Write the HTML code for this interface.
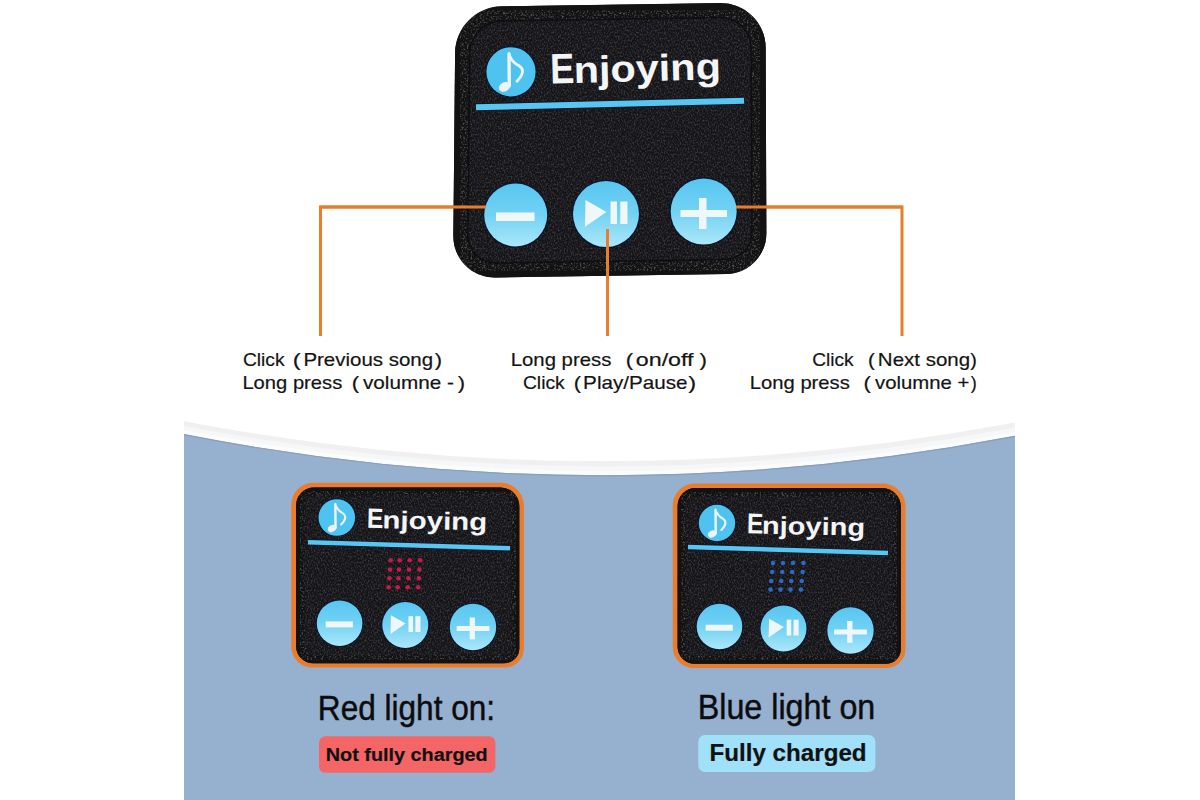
<!DOCTYPE html>
<html><head><meta charset="utf-8"><style>
html,body{margin:0;padding:0;background:#fff;}
svg{display:block;font-family:"Liberation Sans", sans-serif;}
</style></head><body>
<svg width="1200" height="800" viewBox="0 0 1200 800">
<defs>
<linearGradient id="btng" x1="0" y1="0" x2="0" y2="1">
<stop offset="0" stop-color="#58c6f0"/><stop offset="0.5" stop-color="#72d2f4"/><stop offset="1" stop-color="#ace7f8"/>
</linearGradient>
<pattern id="weave" width="4.5" height="4.5" patternUnits="userSpaceOnUse" patternTransform="rotate(-60)">
<circle cx="1.1" cy="1.1" r="0.85" fill="#4a4a4f" opacity="0.4"/>
<circle cx="3.3" cy="3.3" r="0.75" fill="#404044" opacity="0.3"/>
</pattern>
<filter id="grainIn" x="0" y="0" width="100%" height="100%" color-interpolation-filters="sRGB">
<feTurbulence type="fractalNoise" baseFrequency="0.7 0.5" numOctaves="2" seed="7" result="n"/>
<feColorMatrix in="n" type="matrix" values="0 0 0 0 0.25  0 0 0 0 0.25  0 0 0 0 0.28  2.4 0 0 0 -1.02" result="g"/>
<feComposite in="g" in2="SourceGraphic" operator="in"/>
</filter>
<filter id="grain" x="0" y="0" width="100%" height="100%" color-interpolation-filters="sRGB">
<feTurbulence type="fractalNoise" baseFrequency="0.55" numOctaves="2" seed="3" result="n"/>
<feColorMatrix in="n" type="matrix" values="0 0 0 0 0.33  0 0 0 0 0.33  0 0 0 0 0.35  3.0 0 0 0 -1.45" result="g"/>
<feComposite in="g" in2="SourceGraphic" operator="in"/>
</filter>
</defs>
<rect width="1200" height="800" fill="#ffffff"/>
<path d="M184,421.3 Q600,500.5 1015,422.5 L1015,800 L184,800 Z" fill="#f0f0f1"/>
<path d="M184,426 Q600,506 1015,427.5 L1015,800 L184,800 Z" fill="#f6f7f8"/>
<path d="M184,430 Q600,511 1015,432 L1015,800 L184,800 Z" fill="#fbfcfd"/>
<path d="M184,434.2 Q600,515.6 1015,435.8 L1015,800 L184,800 Z" fill="#96b0cf"/>
<path d="M184,434.7 Q600,516.1 1015,436.3" fill="none" stroke="#8a9dbc" stroke-width="1.2"/>
<path d="M320.5,336 L320.5,207 L487,207" stroke="#ea7d2b" stroke-width="3" fill="none"/>
<path d="M736,207 L902,207 L902,336" stroke="#ea7d2b" stroke-width="3" fill="none"/>
<g><path d="M455.08,53.00 C455.31,27.59 476.09,6.70 501.50,6.33 L720.50,3.15 C745.36,2.79 765.57,22.65 765.67,47.50 L766.35,233.50 C766.43,255.59 748.59,273.76 726.50,274.07 L495.00,277.40 C471.80,277.73 453.17,259.20 453.39,236.00 Z" fill="#141417"/>
<path d="M455.08,53.00 C455.31,27.59 476.09,6.70 501.50,6.33 L720.50,3.15 C745.36,2.79 765.57,22.65 765.67,47.50 L766.35,233.50 C766.43,255.59 748.59,273.76 726.50,274.07 L495.00,277.40 C471.80,277.73 453.17,259.20 453.39,236.00 Z" fill="#fff" filter="url(#grainIn)"/>
<path d="M462.11,54.00 C462.33,31.91 480.41,13.73 502.50,13.39 L719.50,10.09 C741.04,9.77 758.57,26.96 758.65,48.50 L759.37,232.50 C759.44,251.28 744.28,266.73 725.50,267.01 L496.00,270.46 C476.12,270.76 460.16,254.88 460.35,235.00 Z" fill="none" stroke="#121213" stroke-width="14"/>
<path d="M462.11,54.00 C462.33,31.91 480.41,13.73 502.50,13.39 L719.50,10.09 C741.04,9.77 758.57,26.96 758.65,48.50 L759.37,232.50 C759.44,251.28 744.28,266.73 725.50,267.01 L496.00,270.46 C476.12,270.76 460.16,254.88 460.35,235.00 Z" fill="none" stroke="#fff" stroke-width="14" filter="url(#grain)"/>
<path d="M469.67,53.50 C469.85,35.83 484.32,21.27 502.00,20.99 L720.00,17.50 C737.12,17.22 751.06,30.88 751.13,48.00 L751.89,232.00 C751.95,246.91 739.91,259.19 725.00,259.43 L496.50,263.04 C480.48,263.29 467.63,250.52 467.80,234.50 Z" fill="none" stroke="#0b0b0c" stroke-width="1.5" opacity="0.8"/>
<circle cx="511" cy="71.8" r="25.6" fill="#0a1530"/>
<circle cx="511" cy="71.8" r="24.6" fill="#4fc3ef"/>
<path d="M509.00,53.80 L509.30,85.80" stroke="#eef3f6" stroke-width="3.40" fill="none" stroke-linecap="round"/>
<path d="M509.50,55.80 Q513.00,62.80 519.00,65.80 Q527.00,70.80 517.00,81.30" stroke="#eef3f6" stroke-width="2.80" fill="none" stroke-linecap="round"/>
<ellipse cx="504.50" cy="86.80" rx="6.00" ry="4.50" transform="rotate(-30 504.50 86.80)" fill="#eef3f6"/>
<g transform="rotate(-1.5 635 70)"><text x="550.22" y="81.4" font-size="42.5" font-weight="bold" fill="#f3f5f7" textLength="24.24" lengthAdjust="spacingAndGlyphs" >E</text><text x="573.64" y="81.4" font-size="37.3" font-weight="bold" fill="#f3f5f7" textLength="147.34" lengthAdjust="spacingAndGlyphs" >njoying</text></g>
<path d="M476,107.2 L744,100.8" stroke="#0a1530" stroke-width="8"/>
<path d="M476,107.2 L744,100.8" stroke="#58c6f1" stroke-width="6"/>
<circle cx="515.7" cy="215" r="32.80" fill="#0a1530"/>
<circle cx="515.7" cy="215" r="31.5" fill="url(#btng)"/>
<path d="M496.00,212.50 L534.50,212.50 L534.50,221.00 L496.00,221.00 Z" fill="#f0f7fa"/>
<circle cx="606" cy="214" r="34.30" fill="#0a1530"/>
<circle cx="606" cy="214" r="33" fill="url(#btng)"/>
<path d="M585.50,200.00 L606.50,212.00 L585.00,226.80 Z" fill="#f0f7fa"/>
<path d="M610.50,201.50 L617.00,201.50 L617.00,224.00 L610.50,224.00 Z" fill="#f0f7fa"/>
<path d="M620.30,201.50 L627.50,201.50 L627.50,224.00 L620.30,224.00 Z" fill="#f0f7fa"/>
<circle cx="703.7" cy="211.5" r="34.30" fill="#0a1530"/>
<circle cx="703.7" cy="211.5" r="33" fill="url(#btng)"/>
<path d="M680.50,210.00 L727.00,210.00 L727.00,217.00 L680.50,217.00 Z" fill="#f0f7fa"/>
<path d="M699.00,198.00 L706.50,198.00 L706.50,229.00 L699.00,229.00 Z" fill="#f0f7fa"/></g>
<path d="M607.5,229 L607.5,336" stroke="#ea7d2b" stroke-width="3" fill="none"/>
<path d="M320.5,207 L486,207" stroke="#ea7d2b" stroke-width="3" fill="none"/>
<path d="M736,207 L902,207" stroke="#ea7d2b" stroke-width="3" fill="none"/>
<text x="242.94" y="365.9" font-size="19" font-weight="normal" fill="#141414" textLength="41.61" lengthAdjust="spacingAndGlyphs" stroke="#141414" stroke-width="0.2">Click</text>
<text x="292.85" y="365.9" font-size="19" font-weight="normal" fill="#141414" textLength="7.95" lengthAdjust="spacingAndGlyphs" stroke="#141414" stroke-width="0.2">(</text>
<text x="303.40" y="365.9" font-size="19" font-weight="normal" fill="#141414" textLength="129.65" lengthAdjust="spacingAndGlyphs" stroke="#141414" stroke-width="0.2">Previous song</text>
<text x="434.75" y="365.9" font-size="19" font-weight="normal" fill="#141414" textLength="7.30" lengthAdjust="spacingAndGlyphs" stroke="#141414" stroke-width="0.2">)</text>
<text x="242.40" y="388.9" font-size="19" font-weight="normal" fill="#141414" textLength="99.85" lengthAdjust="spacingAndGlyphs" stroke="#141414" stroke-width="0.2">Long press</text>
<text x="351.85" y="388.9" font-size="19" font-weight="normal" fill="#141414" textLength="7.40" lengthAdjust="spacingAndGlyphs" stroke="#141414" stroke-width="0.2">(</text>
<text x="363.00" y="388.9" font-size="19" font-weight="normal" fill="#141414" textLength="90.80" lengthAdjust="spacingAndGlyphs" stroke="#141414" stroke-width="0.2">volumne -</text>
<text x="457.75" y="388.9" font-size="19" font-weight="normal" fill="#141414" textLength="7.30" lengthAdjust="spacingAndGlyphs" stroke="#141414" stroke-width="0.2">)</text>
<text x="510.69" y="365.9" font-size="19" font-weight="normal" fill="#141414" textLength="100.66" lengthAdjust="spacingAndGlyphs" stroke="#141414" stroke-width="0.2">Long press</text>
<text x="625.85" y="365.9" font-size="19" font-weight="normal" fill="#141414" textLength="7.40" lengthAdjust="spacingAndGlyphs" stroke="#141414" stroke-width="0.2">(</text>
<text x="635.81" y="365.9" font-size="19" font-weight="normal" fill="#141414" textLength="57.74" lengthAdjust="spacingAndGlyphs" stroke="#141414" stroke-width="0.2">on/off</text>
<text x="699.62" y="365.9" font-size="19" font-weight="normal" fill="#141414" textLength="7.43" lengthAdjust="spacingAndGlyphs" stroke="#141414" stroke-width="0.2">)</text>
<text x="522.94" y="388.9" font-size="19" font-weight="normal" fill="#141414" textLength="41.74" lengthAdjust="spacingAndGlyphs" stroke="#141414" stroke-width="0.2">Click</text>
<text x="573.66" y="388.9" font-size="19" font-weight="normal" fill="#141414" textLength="7.30" lengthAdjust="spacingAndGlyphs" stroke="#141414" stroke-width="0.2">(</text>
<text x="583.14" y="388.9" font-size="19" font-weight="normal" fill="#141414" textLength="104.37" lengthAdjust="spacingAndGlyphs" stroke="#141414" stroke-width="0.2">Play/Pause</text>
<text x="688.20" y="388.9" font-size="19" font-weight="normal" fill="#141414" textLength="7.85" lengthAdjust="spacingAndGlyphs" stroke="#141414" stroke-width="0.2">)</text>
<text x="812.20" y="365.59999999999997" font-size="19" font-weight="normal" fill="#141414" textLength="41.35" lengthAdjust="spacingAndGlyphs" stroke="#141414" stroke-width="0.2">Click</text>
<text x="867.95" y="365.59999999999997" font-size="19" font-weight="normal" fill="#141414" textLength="6.85" lengthAdjust="spacingAndGlyphs" stroke="#141414" stroke-width="0.2">(</text>
<text x="877.85" y="365.59999999999997" font-size="19" font-weight="normal" fill="#141414" textLength="92.20" lengthAdjust="spacingAndGlyphs" stroke="#141414" stroke-width="0.2">Next song</text>
<text x="970.20" y="365.59999999999997" font-size="19" font-weight="normal" fill="#141414" textLength="6.60" lengthAdjust="spacingAndGlyphs" stroke="#141414" stroke-width="0.2">)</text>
<text x="749.85" y="388.59999999999997" font-size="19" font-weight="normal" fill="#141414" textLength="99.95" lengthAdjust="spacingAndGlyphs" stroke="#141414" stroke-width="0.2">Long press</text>
<text x="863.40" y="388.59999999999997" font-size="19" font-weight="normal" fill="#141414" textLength="7.40" lengthAdjust="spacingAndGlyphs" stroke="#141414" stroke-width="0.2">(</text>
<text x="875.00" y="388.59999999999997" font-size="19" font-weight="normal" fill="#141414" textLength="94.35" lengthAdjust="spacingAndGlyphs" stroke="#141414" stroke-width="0.2">volumne +</text>
<text x="970.75" y="388.59999999999997" font-size="19" font-weight="normal" fill="#141414" textLength="6.05" lengthAdjust="spacingAndGlyphs" stroke="#141414" stroke-width="0.2">)</text>
<g><path d="M291.30,504.80 C291.30,492.65 301.15,482.80 313.30,482.80 L500.90,482.80 C513.60,482.80 523.90,493.10 523.90,505.80 L523.90,648.40 C523.90,658.89 515.39,667.40 504.90,667.40 L312.30,667.40 C300.70,667.40 291.30,658.00 291.30,646.40 Z" fill="#ea7d2b"/>
<path d="M296.10,505.40 C296.10,495.46 304.16,487.40 314.10,487.40 L500.30,487.40 C510.79,487.40 519.30,495.91 519.30,506.40 L519.30,648.20 C519.30,656.48 512.58,663.20 504.30,663.20 L313.10,663.20 C303.71,663.20 296.10,655.59 296.10,646.20 Z" fill="#141417"/>
<path d="M296.10,505.40 C296.10,495.46 304.16,487.40 314.10,487.40 L500.30,487.40 C510.79,487.40 519.30,495.91 519.30,506.40 L519.30,648.20 C519.30,656.48 512.58,663.20 504.30,663.20 L313.10,663.20 C303.71,663.20 296.10,655.59 296.10,646.20 Z" fill="#fff" filter="url(#grainIn)"/>
<path d="M300.10,505.40 C300.10,497.67 306.37,491.40 314.10,491.40 L500.30,491.40 C508.58,491.40 515.30,498.12 515.30,506.40 L515.30,648.20 C515.30,654.28 510.38,659.20 504.30,659.20 L313.10,659.20 C305.92,659.20 300.10,653.38 300.10,646.20 Z" fill="none" stroke="#121213" stroke-width="8"/>
<path d="M300.10,505.40 C300.10,497.67 306.37,491.40 314.10,491.40 L500.30,491.40 C508.58,491.40 515.30,498.12 515.30,506.40 L515.30,648.20 C515.30,654.28 510.38,659.20 504.30,659.20 L313.10,659.20 C305.92,659.20 300.10,653.38 300.10,646.20 Z" fill="none" stroke="#fff" stroke-width="8" filter="url(#grain)"/>
<circle cx="336.8" cy="517.5" r="19.2" fill="#0a1530"/>
<circle cx="336.8" cy="517.5" r="18.3" fill="#4fc3ef"/>
<path d="M335.34,504.36 L335.56,527.72" stroke="#eef3f6" stroke-width="2.48" fill="none" stroke-linecap="round"/>
<path d="M335.70,505.82 Q338.26,510.93 342.64,513.12 Q348.48,516.77 341.18,524.43" stroke="#eef3f6" stroke-width="2.04" fill="none" stroke-linecap="round"/>
<ellipse cx="332.06" cy="528.45" rx="4.38" ry="3.29" transform="rotate(-30 332.06 528.45)" fill="#eef3f6"/>
<g transform="rotate(1.2 427 522)"><text x="366.78" y="529.1" font-size="27.9" font-weight="bold" fill="#f3f5f7" textLength="16.48" lengthAdjust="spacingAndGlyphs" >E</text><text x="382.34" y="529.1" font-size="24.6" font-weight="bold" fill="#f3f5f7" textLength="105.00" lengthAdjust="spacingAndGlyphs" >njoying</text></g>
<path d="M308,542.3 L510,548.2" stroke="#0a1530" stroke-width="6"/>
<path d="M308,542.3 L510,548.2" stroke="#58c6f1" stroke-width="4.4"/>
<circle cx="390.7" cy="560.3" r="2.3" fill="#c8184c"/>
<circle cx="399.7" cy="560.3" r="2.3" fill="#c8184c"/>
<circle cx="409.7" cy="560.3" r="2.3" fill="#c8184c"/>
<circle cx="420.2" cy="560.3" r="2.3" fill="#c8184c"/>
<circle cx="390.0" cy="569.6" r="2.3" fill="#c8184c"/>
<circle cx="399.0" cy="569.6" r="2.3" fill="#c8184c"/>
<circle cx="409.0" cy="569.6" r="2.3" fill="#c8184c"/>
<circle cx="419.5" cy="569.6" r="2.3" fill="#c8184c"/>
<circle cx="389.4" cy="578.2" r="2.3" fill="#c8184c"/>
<circle cx="398.4" cy="578.2" r="2.3" fill="#c8184c"/>
<circle cx="408.4" cy="578.2" r="2.3" fill="#c8184c"/>
<circle cx="418.9" cy="578.2" r="2.3" fill="#c8184c"/>
<circle cx="388.7" cy="587.2" r="2.3" fill="#c8184c"/>
<circle cx="397.7" cy="587.2" r="2.3" fill="#c8184c"/>
<circle cx="407.7" cy="587.2" r="2.3" fill="#c8184c"/>
<circle cx="418.2" cy="587.2" r="2.3" fill="#c8184c"/>
<circle cx="339.6" cy="623.2" r="23.72" fill="#0a1530"/>
<circle cx="339.6" cy="623.2" r="22.8" fill="url(#btng)"/>
<path d="M325.71,621.44 L352.85,621.44 L352.85,627.43 L325.71,627.43 Z" fill="#f0f7fa"/>
<circle cx="405.3" cy="625" r="23.92" fill="#0a1530"/>
<circle cx="405.3" cy="625" r="23" fill="url(#btng)"/>
<path d="M390.85,615.13 L405.65,623.59 L390.50,634.02 Z" fill="#f0f7fa"/>
<path d="M408.47,616.19 L413.06,616.19 L413.06,632.05 L408.47,632.05 Z" fill="#f0f7fa"/>
<path d="M415.38,616.19 L420.46,616.19 L420.46,632.05 L415.38,632.05 Z" fill="#f0f7fa"/>
<circle cx="473" cy="627" r="24.12" fill="#0a1530"/>
<circle cx="473" cy="627" r="23.2" fill="url(#btng)"/>
<path d="M456.64,625.94 L489.43,625.94 L489.43,630.88 L456.64,630.88 Z" fill="#f0f7fa"/>
<path d="M469.69,617.48 L474.97,617.48 L474.97,639.34 L469.69,639.34 Z" fill="#f0f7fa"/></g>
<g><path d="M672.80,505.50 C672.80,493.35 682.65,483.50 694.80,483.50 L882.50,483.50 C895.20,483.50 905.50,493.80 905.50,506.50 L905.50,649.00 C905.50,659.49 896.99,668.00 886.50,668.00 L693.80,668.00 C682.20,668.00 672.80,658.60 672.80,647.00 Z" fill="#ea7d2b"/>
<path d="M677.60,506.10 C677.60,496.16 685.66,488.10 695.60,488.10 L881.90,488.10 C892.39,488.10 900.90,496.61 900.90,507.10 L900.90,648.80 C900.90,657.08 894.18,663.80 885.90,663.80 L694.60,663.80 C685.21,663.80 677.60,656.19 677.60,646.80 Z" fill="#141417"/>
<path d="M677.60,506.10 C677.60,496.16 685.66,488.10 695.60,488.10 L881.90,488.10 C892.39,488.10 900.90,496.61 900.90,507.10 L900.90,648.80 C900.90,657.08 894.18,663.80 885.90,663.80 L694.60,663.80 C685.21,663.80 677.60,656.19 677.60,646.80 Z" fill="#fff" filter="url(#grainIn)"/>
<path d="M681.60,506.10 C681.60,498.37 687.87,492.10 695.60,492.10 L881.90,492.10 C890.18,492.10 896.90,498.82 896.90,507.10 L896.90,648.80 C896.90,654.88 891.98,659.80 885.90,659.80 L694.60,659.80 C687.42,659.80 681.60,653.98 681.60,646.80 Z" fill="none" stroke="#121213" stroke-width="8"/>
<path d="M681.60,506.10 C681.60,498.37 687.87,492.10 695.60,492.10 L881.90,492.10 C890.18,492.10 896.90,498.82 896.90,507.10 L896.90,648.80 C896.90,654.88 891.98,659.80 885.90,659.80 L694.60,659.80 C687.42,659.80 681.60,653.98 681.60,646.80 Z" fill="none" stroke="#fff" stroke-width="8" filter="url(#grain)"/>
<circle cx="717" cy="523" r="19.099999999999998" fill="#0a1530"/>
<circle cx="717" cy="523" r="18.2" fill="#4fc3ef"/>
<path d="M715.54,509.86 L715.76,533.22" stroke="#eef3f6" stroke-width="2.48" fill="none" stroke-linecap="round"/>
<path d="M715.90,511.32 Q718.46,516.43 722.84,518.62 Q728.68,522.27 721.38,529.93" stroke="#eef3f6" stroke-width="2.04" fill="none" stroke-linecap="round"/>
<ellipse cx="712.25" cy="533.95" rx="4.38" ry="3.29" transform="rotate(-30 712.25 533.95)" fill="#eef3f6"/>
<g transform="rotate(1.2 806 526)"><text x="746.98" y="534.6" font-size="28.6" font-weight="bold" fill="#f3f5f7" textLength="16.48" lengthAdjust="spacingAndGlyphs" >E</text><text x="761.84" y="534.6" font-size="24.6" font-weight="bold" fill="#f3f5f7" textLength="103.32" lengthAdjust="spacingAndGlyphs" >njoying</text></g>
<path d="M688,547 L888,553" stroke="#0a1530" stroke-width="6"/>
<path d="M688,547 L888,553" stroke="#58c6f1" stroke-width="4.4"/>
<circle cx="773.0" cy="563.0" r="2.3" fill="#2b68c8"/>
<circle cx="783.0" cy="563.0" r="2.3" fill="#2b68c8"/>
<circle cx="793.0" cy="563.0" r="2.3" fill="#2b68c8"/>
<circle cx="803.4" cy="563.0" r="2.3" fill="#2b68c8"/>
<circle cx="772.2" cy="572.0" r="2.3" fill="#2b68c8"/>
<circle cx="782.2" cy="572.0" r="2.3" fill="#2b68c8"/>
<circle cx="792.2" cy="572.0" r="2.3" fill="#2b68c8"/>
<circle cx="802.6" cy="572.0" r="2.3" fill="#2b68c8"/>
<circle cx="771.3" cy="581.0" r="2.3" fill="#2b68c8"/>
<circle cx="781.3" cy="581.0" r="2.3" fill="#2b68c8"/>
<circle cx="791.3" cy="581.0" r="2.3" fill="#2b68c8"/>
<circle cx="801.7" cy="581.0" r="2.3" fill="#2b68c8"/>
<circle cx="770.5" cy="589.6" r="2.3" fill="#2b68c8"/>
<circle cx="780.5" cy="589.6" r="2.3" fill="#2b68c8"/>
<circle cx="790.5" cy="589.6" r="2.3" fill="#2b68c8"/>
<circle cx="800.9" cy="589.6" r="2.3" fill="#2b68c8"/>
<circle cx="719.5" cy="626.5" r="23.72" fill="#0a1530"/>
<circle cx="719.5" cy="626.5" r="22.8" fill="url(#btng)"/>
<path d="M705.61,624.74 L732.75,624.74 L732.75,630.73 L705.61,630.73 Z" fill="#f0f7fa"/>
<circle cx="783.5" cy="628.5" r="23.92" fill="#0a1530"/>
<circle cx="783.5" cy="628.5" r="23" fill="url(#btng)"/>
<path d="M769.05,618.63 L783.85,627.09 L768.70,637.52 Z" fill="#f0f7fa"/>
<path d="M786.67,619.69 L791.25,619.69 L791.25,635.55 L786.67,635.55 Z" fill="#f0f7fa"/>
<path d="M793.58,619.69 L798.66,619.69 L798.66,635.55 L793.58,635.55 Z" fill="#f0f7fa"/>
<circle cx="850.5" cy="630.5" r="24.12" fill="#0a1530"/>
<circle cx="850.5" cy="630.5" r="23.2" fill="url(#btng)"/>
<path d="M834.14,629.44 L866.93,629.44 L866.93,634.38 L834.14,634.38 Z" fill="#f0f7fa"/>
<path d="M847.19,620.98 L852.47,620.98 L852.47,642.84 L847.19,642.84 Z" fill="#f0f7fa"/></g>
<text x="317.86" y="719.5" font-size="34.2" font-weight="normal" fill="#0c0c0c" textLength="177.25" lengthAdjust="spacingAndGlyphs" stroke="#0c0c0c" stroke-width="0.45">Red light on:</text>
<rect x="319" y="736.3" width="176.4" height="36.5" rx="6.5" fill="#f46565"/>
<text x="325.78" y="761.2" font-size="19.2" font-weight="bold" fill="#111" textLength="161.86" lengthAdjust="spacingAndGlyphs" stroke="#141414" stroke-width="0.2">Not fully charged</text>
<text x="697.76" y="718.6" font-size="34.8" font-weight="normal" fill="#0c0c0c" textLength="177.52" lengthAdjust="spacingAndGlyphs" stroke="#0c0c0c" stroke-width="0.45">Blue light on</text>
<rect x="698.3" y="735" width="177.1" height="37" rx="6.5" fill="#a0e0f8"/>
<text x="709.56" y="760.5" font-size="24" font-weight="bold" fill="#111" textLength="157.04" lengthAdjust="spacingAndGlyphs" stroke="#141414" stroke-width="0.2">Fully charged</text>
</svg>
</body></html>
